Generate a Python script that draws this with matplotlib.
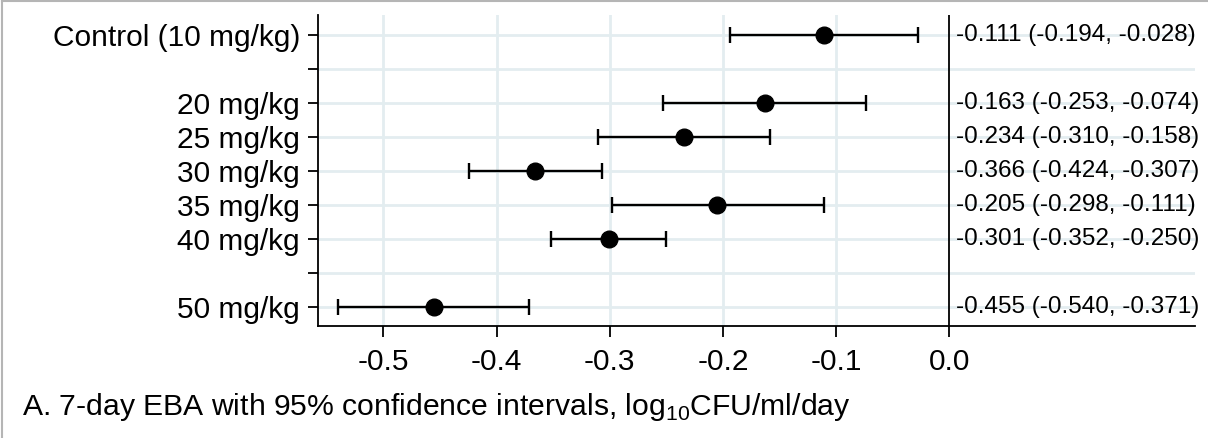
import numpy as np
import matplotlib.pyplot as plt
from matplotlib.lines import Line2D

# 7-day EBA estimates with 95% CI by dose group
groups = ["Control (10 mg/kg)", "20 mg/kg", "25 mg/kg", "30 mg/kg",
          "35 mg/kg", "40 mg/kg", "50 mg/kg"]
rows = [1, 3, 4, 5, 6, 7, 9]          # gaps at rows 2 and 8 separate the blocks
eba = [-0.111, -0.163, -0.234, -0.366, -0.205, -0.301, -0.455]
ci_low = [-0.194, -0.253, -0.310, -0.424, -0.298, -0.352, -0.540]
ci_high = [-0.028, -0.074, -0.158, -0.307, -0.111, -0.250, -0.371]
xticks = [-0.5, -0.4, -0.3, -0.2, -0.1, 0.0]

plt.rcParams['font.family'] = ['Liberation Sans', 'DejaVu Sans']

fig = plt.figure(figsize=(12.08, 4.38), dpi=100)
ax = fig.add_axes([318 / 1208, 1 - 326 / 438, 877 / 1208, 311 / 438])

eba = np.array(eba)
ci_low = np.array(ci_low)
ci_high = np.array(ci_high)
err = [eba - ci_low, ci_high - eba]
ax.errorbar(eba, rows, xerr=err, fmt='o', color='black', ms=12,
            elinewidth=1.7, capsize=6, capthick=1.7, zorder=3)

# value labels to the right of the zero line
for r, e, lo, hi in zip(rows, eba, ci_low, ci_high):
    ax.annotate(f"{e:.3f} ({lo:.3f}, {hi:.3f})", xy=(0, r), xytext=(5, 0),
                textcoords='offset points', va='center', ha='left', fontsize=17.5)

ax.axvline(0, color='black', lw=1.3, zorder=2)

all_rows = list(range(1, 10))
tick_labels = ["" for _ in all_rows]
for g, r in zip(groups, rows):
    tick_labels[r - 1] = g
ax.set_yticks(all_rows)
ax.set_yticklabels(tick_labels, fontsize=21.5)
ax.set_xticks(xticks)
ax.set_xticklabels([f"{t:.1f}" for t in xticks], fontsize=21.5)
ax.set_xlim(-0.5577, 0.217)
ax.set_ylim(9.56, 0.41)

# light grid: every row, and every x tick except zero
for r in all_rows:
    ax.axhline(r, color='#e3edf0', lw=2, zorder=0)
for t in xticks[:-1]:
    ax.axvline(t, color='#e3edf0', lw=2, zorder=0)

for s in ['top', 'right']:
    ax.spines[s].set_visible(False)
for s in ['left', 'bottom']:
    ax.spines[s].set_linewidth(1.3)
ax.tick_params(axis='y', length=7, width=1.3, pad=6)
ax.tick_params(axis='x', length=8, width=1.3, pad=8)

fig.text(22 / 1208, 1 - 415 / 438,
         r"A. 7-day EBA with 95% confidence intervals, log$_{\mathregular{10}}$CFU/ml/day",
         fontsize=21.7, ha='left', va='baseline')

# thin frame along top and left edge
fig.add_artist(Line2D([0.0018, 0.0018], [0, 0.998], transform=fig.transFigure,
                      color='#b5b5b5', lw=1.5))
fig.add_artist(Line2D([0.0018, 1], [0.998, 0.998], transform=fig.transFigure,
                      color='#b5b5b5', lw=1.5))

fig.savefig('out.png', dpi=100)
